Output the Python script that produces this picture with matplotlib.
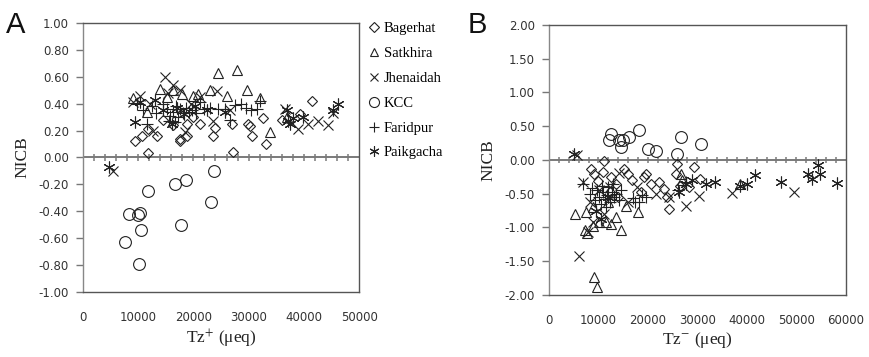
import matplotlib
matplotlib.use("Agg")
import matplotlib.pyplot as plt
from matplotlib.lines import Line2D
from matplotlib.ticker import MultipleLocator, FormatStrFormatter
import numpy as np

plt.rcParams['mathtext.fontset'] = 'stix'

# NICB against total cations (A) and total anions (B), per sampling area
sites = ['Bagerhat', 'Satkhira', 'Jhenaidah', 'KCC', 'Faridpur', 'Paikgacha']
markers = ['D', '^', 'x', 'o', '+', (6, 2, 0)]
msizes = [5.5, 7.5, 7.5, 8.5, 8.5, 8.5]

# panel A: Tz+ (ueq), NICB
bag_a_x = [9450, 10660, 11860, 13370, 11860, 16390, 17580, 17590, 18790, 18800, 21200, 23600, 23900,
           26920, 27210, 29920, 30300, 30540, 32640, 33120, 35960, 39270, 41380, 14500, 20000]
bag_a_y = [0.12, 0.16, 0.21, 0.16, 0.03, 0.24, 0.14, 0.12, 0.16, 0.25, 0.25, 0.16, 0.22,
           0.25, 0.04, 0.25, 0.23, 0.16, 0.29, 0.10, 0.28, 0.32, 0.42, 0.28, 0.30]
sat_a_x = [9160, 11570, 13980, 15180, 16390, 17900, 20000, 20900, 23000, 24520, 26000, 27830,
           29640, 32050, 33860, 36900]
sat_a_y = [0.44, 0.34, 0.51, 0.45, 0.50, 0.47, 0.46, 0.47, 0.50, 0.63, 0.46, 0.65,
           0.50, 0.44, 0.19, 0.30]
jhe_a_x = [5500, 9160, 10360, 12200, 12770, 14880, 15500, 16390, 17590, 18500, 19500, 21200, 23600,
           24220, 26630, 36570, 38980, 40780, 42590, 44400, 45300]
jhe_a_y = [-0.10, 0.41, 0.46, 0.40, 0.20, 0.60, 0.48, 0.54, 0.50, 0.19, 0.40, 0.45, 0.27,
           0.49, 0.35, 0.36, 0.21, 0.25, 0.27, 0.24, 0.33]
kcc_a_x = [8420, 10000, 10400, 7640, 10530, 10230, 11860, 16680, 18610, 17760, 23180, 23780]
kcc_a_y = [-0.42, -0.43, -0.41, -0.63, -0.54, -0.79, -0.25, -0.20, -0.17, -0.50, -0.33, -0.10]
far_a_x = [9800, 10960, 11570, 12500, 13300, 14580, 15200, 15780, 16300, 16900, 17300, 17600, 18100,
           18700, 19200, 19800, 20500, 21200, 22000, 23000, 24500, 25800, 26630, 27500, 28600,
           29500, 30500, 31500, 32050, 15600, 16700]
far_a_y = [0.40, 0.35, 0.25, 0.38, 0.33, 0.40, 0.36, 0.31, 0.34, 0.38, 0.30, 0.36, 0.33,
           0.37, 0.34, 0.35, 0.33, 0.41, 0.36, 0.37, 0.36, 0.36, 0.28, 0.39, 0.40,
           0.37, 0.35, 0.36, 0.42, 0.27, 0.26]
pai_a_x = [4700, 9460, 10360, 13000, 14600, 16080, 17000, 18300, 20300, 22400, 25800, 36870,
           37470, 38000, 39800, 45300, 46200, 37200]
pai_a_y = [-0.07, 0.26, 0.41, 0.43, 0.35, 0.25, 0.37, 0.32, 0.38, 0.35, 0.34, 0.35,
           0.25, 0.29, 0.30, 0.35, 0.40, 0.27]

# panel B: Tz- (ueq), NICB
bag_b_x = [8530, 9200, 9860, 10870, 11210, 12560, 13500, 15240, 15900, 16800, 19260, 19600, 20610,
           22280, 23290, 23960, 24300, 25650, 25970, 26500, 28320, 29330, 30500, 14000, 18600]
bag_b_y = [-0.13, -0.21, -0.31, -0.18, -0.02, -0.26, -0.35, -0.13, -0.21, -0.30, -0.26, -0.21, -0.36,
           -0.33, -0.43, -0.55, -0.72, -0.21, -0.06, -0.38, -0.40, -0.11, -0.28, -0.55, -0.48]
sat_b_x = [5170, 7190, 7530, 7650, 8860, 9200, 9740, 10210, 11550, 12500, 13570, 14570, 17920,
           9000, 12000, 26650, 26980, 38730, 15500]
sat_b_y = [-0.80, -1.04, -0.77, -1.09, -0.70, -1.73, -1.88, -0.92, -0.92, -0.95, -0.85, -1.04, -0.77,
           -0.98, -0.62, -0.21, -0.30, -0.36, -0.68]
jhe_b_x = [5700, 6040, 6850, 7850, 8300, 8900, 10100, 11200, 12400, 14200, 16000, 17800, 21600,
           24300, 27660, 30340, 37040, 49460]
jhe_b_y = [0.08, -1.43, -0.33, -1.07, -0.62, -0.92, -0.45, -0.80, -0.40, -0.20, -0.62, -0.40, -0.50,
           -0.55, -0.69, -0.53, -0.49, -0.47]
kcc_b_x = [12220, 12560, 14230, 14570, 15040, 16250, 18260, 19930, 21620, 25970, 26770, 30680]
kcc_b_y = [0.30, 0.38, 0.30, 0.19, 0.29, 0.34, 0.44, 0.16, 0.13, 0.09, 0.34, 0.24]
far_b_x = [6850, 8200, 8800, 9300, 9800, 10200, 10500, 10900, 11300, 11700, 12000, 12300, 12700,
           13100, 13600, 14100, 14600, 16900, 17500, 18260, 18900, 19700, 10800, 11600, 13000,
           26000, 27800]
far_b_y = [-0.36, -0.50, -0.42, -0.60, -0.45, -0.55, -0.66, -0.48, -0.58, -0.52, -0.40, -0.62, -0.47,
           -0.55, -0.50, -0.60, -0.44, -0.56, -0.62, -0.63, -0.52, -0.55, -0.38, -0.70, -0.35,
           -0.45, -0.33]
pai_b_x = [5000, 9500, 10500, 12000, 26310, 27660, 31680, 33560, 38730, 40060, 41610, 46980,
           52480, 53150, 54490, 54830, 58180, 29000]
pai_b_y = [0.09, -0.75, -0.88, -0.55, -0.48, -0.36, -0.36, -0.33, -0.38, -0.36, -0.23, -0.33,
           -0.21, -0.28, -0.08, -0.21, -0.34, -0.30]

data_a = [(bag_a_x, bag_a_y), (sat_a_x, sat_a_y), (jhe_a_x, jhe_a_y),
          (kcc_a_x, kcc_a_y), (far_a_x, far_a_y), (pai_a_x, pai_a_y)]
data_b = [(bag_b_x, bag_b_y), (sat_b_x, sat_b_y), (jhe_b_x, jhe_b_y),
          (kcc_b_x, kcc_b_y), (far_b_x, far_b_y), (pai_b_x, pai_b_y)]

ink = '#222222'
frame = '#555555'
zero_col = '#7a7a7a'
serif = ['Liberation Serif', 'DejaVu Serif']

fig = plt.figure(figsize=(8.7, 3.57), dpi=100)
ax_a = fig.add_axes([0.095, 0.182, 0.318, 0.754])
ax_b = fig.add_axes([0.631, 0.174, 0.341, 0.756])


def panel(ax, data, xmax, ymin, ymax, ystep, xlab):
    ax.set_xlim(0, xmax)
    ax.set_ylim(ymin, ymax)

    # gray zero axis with a cross tick every 2000
    ax.axhline(0, color=zero_col, lw=1.4, zorder=1)
    minor = np.arange(2000, xmax, 2000)
    ax.vlines(minor, -0.025 * (ymax - ymin) / 2, 0.025 * (ymax - ymin) / 2,
              colors=zero_col, lw=1.1, zorder=1)

    for (x, y), m, ms in zip(data, markers, msizes):
        ax.plot(x, y, linestyle='none', marker=m, markersize=ms, mfc='none',
                mec=ink, mew=0.8, zorder=3)

    for side in ['top', 'right', 'left', 'bottom']:
        ax.spines[side].set_color(frame)
        ax.spines[side].set_linewidth(1.0)
    ax.spines['left'].set_color('#888888')

    ax.xaxis.set_major_locator(MultipleLocator(10000))
    ax.xaxis.set_major_formatter(FormatStrFormatter('%d'))
    ax.tick_params(axis='x', length=0, labelsize=8.5, labelcolor='#333333', pad=14)

    ax.yaxis.set_major_locator(MultipleLocator(ystep))
    ax.yaxis.set_major_formatter(FormatStrFormatter('%.2f'))
    ax.tick_params(axis='y', direction='out', length=5, width=1.0, color='#777777',
                   labelsize=8.5, labelcolor='#333333', pad=5)

    ax.set_ylabel('NICB', family=serif, fontsize=12.5, color=ink, labelpad=6)
    ax.set_xlabel(xlab, family=serif, fontsize=12.5, color=ink, labelpad=2)


panel(ax_a, data_a, 50000, -1.0, 1.0, 0.2, r'Tz$^{+}$ (μeq)')
panel(ax_b, data_b, 60000, -2.0, 2.0, 0.5, r'Tz$^{-}$ (μeq)')

fig.text(0.007, 0.97, 'A', fontsize=21, color='#111111', va='top',
         family=['Liberation Sans', 'DejaVu Sans'])
fig.text(0.537, 0.97, 'B', fontsize=21, color='#111111', va='top',
         family=['Liberation Sans', 'DejaVu Sans'])

handles = [Line2D([], [], linestyle='none', marker=m, markersize=ms * 0.85, mfc='none',
                  mec=ink, mew=0.8) for m, ms in zip(markers, msizes)]
fig.legend(handles, sites, loc='upper left', bbox_to_anchor=(0.418, 0.955),
           frameon=False, handlelength=0.6, handletextpad=0.4, labelspacing=0.8,
           prop={'family': serif, 'size': 10.5}, borderaxespad=0)

fig.savefig('out.png', dpi=100)
